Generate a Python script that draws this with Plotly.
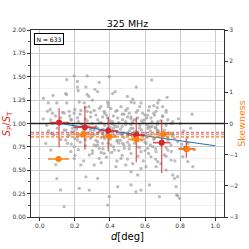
import plotly.graph_objects as go

# ---------------- data ----------------
# individual sources: distance d [deg] and S_P/S_T
src_d = [0.154,0.196,0.27,0.396,0.638,0.55,0.215,0.339,0.215,0.263,0.33,0.148,0.076,0.021,0.27,0.28,0.415,0.50,0.68,0.726,0.868,
         0.048,0.097,0.154,0.225,0.253,0.30,0.387,0.52,0.538,0.577,0.625,0.672,0.70,0.72,0.044,0.072,0.139,0.168,0.196,0.234,0.28,
         0.31,0.348,0.367,0.405,0.434,0.463,0.49,0.51,0.558,0.587,0.615,0.653,0.663,0.70,0.758,0.063,0.12,0.177,0.215,0.29,0.33,
         0.358,0.387,0.415,0.444,0.472,0.50,0.53,0.558,0.596,0.634,0.672,0.73,0.219,0.152,0.43,0.314,
         0.139,0.118,0.097,0.091,0.063,0.034,0.234,0.263,0.225,0.282,0.33,0.31,0.282,0.339,0.367,0.396,0.387,0.444,0.434,0.463,
         0.49,0.52,0.52,0.548,0.577,0.558,0.577,0.606,0.625,0.663,0.672,0.682,0.72,0.758,0.768,0.786,0.777,0.786,0.796,0.78,0.872,
         0.844,0.815,0.748,0.71,0.634,0.577,0.52,0.482,0.425,0.405,0.339,0.31,0.196,0.177,0.196,0.158,0.215,0.29,0.33,0.358,0.444,
         0.472,0.51,0.606,0.615,0.644,0.663,0.73,0.748,0.786,0.805,0.73,0.768,0.844,0.70,0.653,0.577,0.539,0.425,0.463,0.33,0.367,
         0.168,0.196,0.215,0.148,0.615,0.672,0.52,0.444,0.387,0.29,0.234,0.187,0.139,0.063,
         0.16,0.19,0.22,0.24,0.27,0.30,0.32,0.35,0.37,0.40,0.42,0.45,0.47,0.49,0.52,0.54,0.57,0.59,0.62,0.64,0.67,0.69,0.72,0.75,
         0.15,0.18,0.21,0.25,0.28,0.31,0.34,0.36,0.39,0.41,0.44,0.46,0.48,0.51,0.53,0.56,0.58,0.60,0.63,0.66,0.68,0.71,0.74,
         0.16,0.20,0.23,0.26,0.29,0.32,0.35,0.38,0.40,0.43,0.46,0.48,0.50,0.53,0.55,0.58,0.61,0.63,0.65,0.68,0.70,0.73,0.76,
         0.17,0.20,0.23,0.26,0.29,0.32,0.34,0.37,0.39,0.42,0.44,0.47,0.50,0.52,0.55,0.57,0.60,0.62,0.65,0.67,0.70,0.72,
         0.18,0.22,0.26,0.30,0.33,0.36,0.39,0.42,0.45,0.48,0.51,0.54,0.57,0.60,0.63,0.66,0.69,0.72,0.75,
         0.20,0.25,0.30,0.35,0.38,0.41,0.44,0.47,0.50,0.53,0.56,0.59,0.62,0.66,0.69,0.72,0.77,
         0.02,0.04,0.05,0.07,0.08,0.09,0.10,0.12,0.13,0.06,
         0.80,0.82,0.79,0.84,0.81,0.86,0.88,
         0.21,0.26,0.33,0.38,0.43,0.47,0.52,0.57,0.61,0.66,0.23,0.28,0.36,0.41,0.45,0.55,0.60,0.64,0.18,0.31,0.40,0.50,0.58,0.69,
         0.24,0.29,0.34,0.37,0.42,0.46,0.49,0.54,0.59,0.63,0.67,0.71,0.27,0.32,0.39,0.44,0.48,0.56,0.61,0.65,0.35,0.53]
src_r = [1.47,1.51,1.51,1.50,1.465,1.39,1.45,1.44,1.39,1.39,1.34,1.32,1.30,1.27,1.31,1.29,1.32,1.29,1.25,1.28,1.10,
         1.22,1.22,1.22,1.23,1.22,1.25,1.23,1.23,1.22,1.22,1.18,1.22,1.18,1.14,1.13,1.11,1.11,1.13,1.11,1.14,1.18,
         1.14,1.18,1.13,1.16,1.13,1.18,1.14,1.11,1.14,1.11,1.09,1.09,1.13,1.075,1.02,1.04,1.06,1.04,1.06,1.07,1.04,
         1.07,1.06,1.02,1.06,1.04,1.07,1.02,1.06,1.04,1.06,1.02,1.04,1.35,1.31,1.34,1.366,
         0.11,0.29,0.41,0.56,0.716,0.787,0.557,0.43,0.307,0.288,0.413,0.557,0.663,0.627,0.68,0.217,0.128,0.324,0.538,0.627,
         0.557,0.342,0.484,0.27,0.288,0.449,0.52,0.538,0.342,0.538,0.592,0.217,0.502,0.449,0.413,0.431,0.324,0.228,0.20,0.235,0.538,
         0.592,0.645,0.609,0.663,0.645,0.699,0.68,0.734,0.716,0.77,0.734,0.77,0.752,0.699,0.627,0.787,0.823,0.841,0.805,0.787,0.823,
         0.787,0.77,0.787,0.734,0.752,0.699,0.716,0.77,0.805,0.734,0.823,0.841,0.787,0.877,0.841,0.877,0.859,0.877,0.895,0.895,0.859,
         0.877,0.913,0.859,0.823,0.948,0.93,0.948,0.966,0.948,0.948,0.966,0.948,0.93,0.895,
         1.00,0.98,1.02,0.99,1.03,1.00,0.97,1.01,0.98,1.03,0.99,1.01,0.97,1.02,0.99,1.04,0.98,1.01,0.97,1.02,0.99,1.03,0.98,1.00,
         0.93,0.91,0.94,0.92,0.90,0.93,0.91,0.94,0.90,0.93,0.91,0.94,0.90,0.92,0.95,0.91,0.93,0.90,0.92,0.95,0.91,0.93,0.90,
         0.86,0.84,0.87,0.83,0.86,0.82,0.85,0.88,0.83,0.86,0.82,0.85,0.88,0.83,0.86,0.82,0.85,0.88,0.83,0.86,0.82,0.85,0.88,
         1.08,1.15,1.10,1.17,1.12,1.09,1.16,1.11,1.18,1.08,1.14,1.10,1.16,1.07,1.12,1.18,1.09,1.14,1.11,1.17,1.08,1.12,
         0.78,0.72,0.76,0.71,0.77,0.73,0.79,0.75,0.71,0.77,0.73,0.79,0.74,0.71,0.77,0.73,0.78,0.74,0.70,
         0.66,0.60,0.68,0.58,0.64,0.69,0.60,0.66,0.62,0.57,0.65,0.60,0.68,0.62,0.57,0.65,0.60,
         1.05,0.98,0.92,1.00,0.88,1.08,0.95,0.83,1.12,1.15,
         1.00,0.92,1.05,0.85,0.78,0.95,0.72,
         0.96,1.05,0.95,1.09,0.97,0.88,1.05,0.95,1.06,0.96,0.80,0.97,0.89,1.00,0.79,0.91,0.80,0.97,1.04,0.88,0.96,0.80,1.03,0.88,
         0.87,0.93,1.01,0.84,0.95,0.89,0.99,0.91,0.87,0.96,0.92,0.88,1.13,0.76,1.21,0.81,1.10,0.75,0.99,1.19,0.69,1.26]

# binned mean of S_P/S_T (red)
bin_d = [0.11, 0.257, 0.39, 0.55, 0.695, 0.835]
bin_dw = [0.055, 0.065, 0.055, 0.05, 0.05, 0.045]
mean_ratio = [1.01, 0.96, 0.923, 0.877, 0.795, 0.73]
mean_lo = [0.745, 0.72, 0.70, 0.585, 0.47, 0.635]
mean_hi = [1.165, 1.19, 1.07, 1.066, 1.037, 0.84]

# binned skewness (orange, right axis)
skew_d = [0.107, 0.248, 0.396, 0.552, 0.705, 0.84]
skew_dw = [0.06, 0.057, 0.038, 0.048, 0.055, 0.048]
skew_val = [-1.14, -0.345, -0.42, -0.51, -0.345, -0.82]

# linear fit of S_P/S_T vs d
fit_d = [0.11, 1.0]
fit_ratio = [1.0, 0.762]

# reference lines
mean_all = [0.906, 0.886]
skew_all = -0.43
n_src = 633

# ---------------- figure ----------------
RED = "#d62728"
ORANGE = "#ff7f0e"
BLUE = "#1f77b4"
FONT = "DejaVu Sans"

fig = go.Figure()

fig.add_trace(go.Scatter(x=src_d, y=src_r, mode="markers",
                         marker=dict(size=3.3, color="rgba(160,160,160,0.7)", line=dict(width=0)),
                         hoverinfo="skip"))

# black line at unity
fig.add_trace(go.Scatter(x=[-0.05, 1.05], y=[1.0, 1.0], mode="lines",
                         line=dict(color="#222222", width=1.3)))
# dashed average lines
for v in mean_all:
    fig.add_trace(go.Scatter(x=[-0.05, 1.05], y=[v, v], mode="lines",
                             line=dict(color="rgba(214,39,40,0.6)", width=1.2, dash="3px,2px")))
fig.add_trace(go.Scatter(x=[-0.05, 1.05], y=[skew_all, skew_all], mode="lines", yaxis="y2",
                         line=dict(color=ORANGE, width=1.2, dash="3px,2px")))

# fit line
fig.add_trace(go.Scatter(x=fit_d, y=fit_ratio, mode="lines", line=dict(color=BLUE, width=1.2)))

# mean points
fig.add_trace(go.Scatter(x=bin_d, y=mean_ratio, mode="markers",
                         marker=dict(size=6, color=RED),
                         error_y=dict(type="data",
                                      array=[h - m for h, m in zip(mean_hi, mean_ratio)],
                                      arrayminus=[m - l for l, m in zip(mean_lo, mean_ratio)],
                                      color="rgba(214,39,40,0.8)", thickness=1.2, width=0),
                         error_x=dict(type="data", array=bin_dw, color="rgba(214,39,40,0.8)",
                                      thickness=1.6, width=0)))

# skewness points
fig.add_trace(go.Scatter(x=skew_d, y=skew_val, mode="markers", yaxis="y2",
                         marker=dict(size=6, color=ORANGE),
                         error_x=dict(type="data", array=skew_dw, color="rgba(255,127,14,0.75)",
                                      thickness=2, width=0)))

axis_common = dict(showline=True, linecolor="#333333", linewidth=1,
                   ticks="outside", ticklen=3, tickcolor="#333333", tickwidth=1,
                   tickfont=dict(family=FONT, size=6, color="#333333"), zeroline=False)

fig.update_layout(
    width=249, height=249, showlegend=False,
    paper_bgcolor="white", plot_bgcolor="white",
    margin=dict(l=31, r=25, t=30, b=32, autoexpand=False),
    title=dict(text="325 MHz", x=0.512, xanchor="center", y=0.905, yanchor="middle",
               font=dict(family=FONT, size=9.5, color="black")),
    xaxis=dict(range=[-0.05, 1.05], tickvals=[0, 0.2, 0.4, 0.6, 0.8, 1.0],
               ticktext=["0.0", "0.2", "0.4", "0.6", "0.8", "1.0"],
               showgrid=True, gridcolor="#cccccc", gridwidth=1, mirror=True, **axis_common),
    yaxis=dict(range=[0, 2], tickvals=[0, 0.25, 0.5, 0.75, 1.0, 1.25, 1.5, 1.75, 2.0],
               ticktext=["0.00", "0.25", "0.50", "0.75", "1.00", "1.25", "1.50", "1.75", "2.00"],
               showgrid=True, gridcolor="#cccccc", gridwidth=1, mirror=False,
               minor=dict(dtick=0.125, tick0=0, ticks="outside", ticklen=2, tickcolor="#555555",
                          showgrid=True, gridcolor="#f0f0f0", gridwidth=1),
               **axis_common),
    yaxis2=dict(range=[-3, 3], overlaying="y", side="right", showgrid=False, mirror=False,
                tickvals=[-3, -2, -1, 0, 1, 2, 3],
                ticktext=["\u22123", "\u22122", "\u22121", "0", "1", "2", "3"],
                **axis_common),
)

fig.add_annotation(text="N = %d" % n_src, xref="paper", yref="paper", x=0.018, y=0.985,
                   xanchor="left", yanchor="top", showarrow=False,
                   font=dict(family=FONT, size=6, color="black"),
                   bordercolor="black", borderwidth=1, borderpad=1.5, bgcolor="white")
fig.add_annotation(text="<i>S</i><sub>P</sub>/<i>S</i><sub>T</sub>", xref="paper", yref="paper",
                   x=-0.12, y=0.5, xanchor="center", yanchor="middle", textangle=-90, showarrow=False,
                   font=dict(family=FONT, size=10, color=RED))
fig.add_annotation(text="Skewness", xref="paper", yref="paper",
                   x=1.09, y=0.5, xanchor="center", yanchor="middle", textangle=-90, showarrow=False,
                   font=dict(family=FONT, size=9.5, color=ORANGE))
fig.add_annotation(text="<i>d</i>[deg]", xref="paper", yref="paper",
                   x=0.5, y=-0.066, xanchor="center", yanchor="top", showarrow=False,
                   font=dict(family=FONT, size=10, color="black"))

fig.write_html("out.html", config={"displayModeBar": False, "staticPlot": True},
               post_script="document.body.style.margin='0px';document.body.style.padding='0px';")
